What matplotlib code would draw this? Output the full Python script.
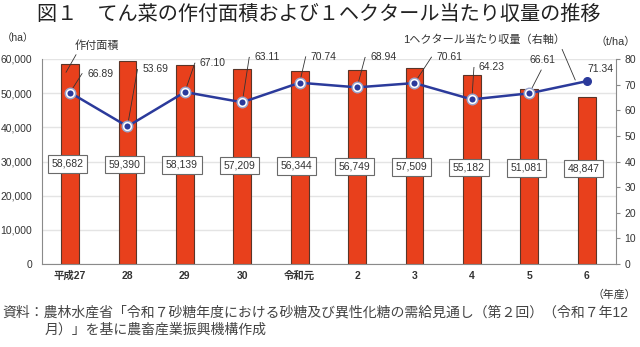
import math
import matplotlib
matplotlib.use("Agg")
import matplotlib.pyplot as plt

plt.rcParams['font.family'] = ['Liberation Sans', 'Noto Sans CJK JP', 'DejaVu Sans']

years = ['平成27', '28', '29', '30', '令和元', '2', '3', '4', '5', '6']
area = [58682, 59390, 58139, 57209, 56344, 56749, 57509, 55182, 51081, 48847]
yield_t = [66.89, 53.69, 67.10, 63.11, 70.74, 68.94, 70.61, 64.23, 66.61, 71.34]

# text offset of each yield label from its point, in pixels (dx to text left, dy up)
lab_off = [(17, 19), (15, 57), (15, 29), (12, 45), (11, 26),
           (13, 30), (22, 26), (7, 32), (0, 33), (1, 12)]
lab_style = ['hook'] * 8 + ['plain', 'none']

bar_color = '#e8401c'
line_color = '#2b3a9b'
txt = '#333333'

fig = plt.figure(figsize=(6.4, 3.47), dpi=100)
W, H = 640, 347
ax = fig.add_axes([42 / W, 1 - 264 / H, (616 - 42) / W, (264 - 59) / H])
ax2 = ax.twinx()

x = list(range(len(years)))
ax.bar(x, area, width=0.31, color=bar_color, edgecolor='#5a3528', linewidth=0.8, zorder=2)
ax.set_xlim(-0.488, 9.51)
ax.set_ylim(0, 60000)
ax.set_yticks(range(0, 60001, 10000))
ax.set_yticklabels([f'{v:,}' for v in range(0, 60001, 10000)])
ax.grid(axis='y', color='#e4e4e4', linewidth=1.0)
ax.set_axisbelow(True)
ax.set_xticks(x)
ax.set_xticklabels(years, fontweight='bold')
ax.tick_params(axis='y', length=0, pad=7, labelsize=7.5, labelcolor=txt)
ax.tick_params(axis='x', length=0, pad=5, labelsize=7.5, labelcolor=txt)
for s in ['top', 'right']:
    ax.spines[s].set_visible(False)
for s in ['left', 'bottom']:
    ax.spines[s].set_color('#8a8a8a')

# area value boxes
for i, v in enumerate(area):
    ax.text(i - 0.05, 29300 - i * 150, f'{v:,}', ha='center', va='center', fontsize=7.5,
            color=txt, zorder=5,
            bbox=dict(boxstyle='square,pad=0.35', fc='white', ec='#6a6a6a', lw=0.8))

# yield line
ax2.set_ylim(0, 80)
ax2.set_yticks(range(0, 81, 10))
ax2.plot(x, yield_t, color=line_color, linewidth=1.8, zorder=3)
ax2.scatter(x[:-1], yield_t[:-1], s=58, color='#9aa6cf', zorder=4)
ax2.scatter(x[:-1], yield_t[:-1], s=30, color=line_color, edgecolors='white', linewidths=1.1, zorder=5)
ax2.scatter(x[-1:], yield_t[-1:], s=30, color=line_color, zorder=5)
ax2.tick_params(axis='y', length=3, direction='out', color='#8a8a8a', pad=3,
                labelsize=7.5, labelcolor=txt)
for s in ['top', 'left', 'bottom']:
    ax2.spines[s].set_visible(False)
ax2.spines['right'].set_color('#8a8a8a')

px = 0.72
for i, v in enumerate(yield_t):
    dx, dy = lab_off[i]
    st = lab_style[i]
    if st == 'hook':
        ang = math.degrees(math.atan2(dy, dx - 5))
        ax2.annotate(f'{v:.2f}', xy=(i, v), xytext=(dx * px, dy * px), textcoords='offset points',
                     ha='left', va='center', fontsize=7.5, color=txt, zorder=3,
                     arrowprops=dict(arrowstyle='-', color='#333333', lw=0.6, relpos=(0, 0.5),
                                     shrinkA=1.5, shrinkB=0,
                                     connectionstyle=f'angle,angleA=0,angleB={ang:.1f},rad=0'))
    elif st == 'plain':
        ax2.annotate(f'{v:.2f}', xy=(i, v), xytext=(dx * px, dy * px), textcoords='offset points',
                     ha='left', va='center', fontsize=7.5, color=txt, zorder=3,
                     arrowprops=dict(arrowstyle='-', color='#333333', lw=0.6, relpos=(0.55, 0),
                                     shrinkA=1.5, shrinkB=0))
    else:
        ax2.annotate(f'{v:.2f}', xy=(i, v), xytext=(dx * px, dy * px), textcoords='offset points',
                     ha='left', va='center', fontsize=7.5, color=txt)

# series labels
ax.annotate('作付面積', xy=(-0.07, 56100), xytext=(31 * px, 27 * px), textcoords='offset points',
            ha='center', va='center', fontsize=8, color=txt,
            arrowprops=dict(arrowstyle='-', color='#333333', lw=0.6, relpos=(0.08, 0),
                            shrinkA=1, shrinkB=0))
ax2.annotate('1ヘクタール当たり収量（右軸）', xy=(8.8, 71.8), xytext=(-91 * px, 40 * px),
             textcoords='offset points', ha='center', va='center', fontsize=8, color=txt,
             arrowprops=dict(arrowstyle='-', color='#333333', lw=0.6, relpos=(0.97, 0),
                             shrinkA=1, shrinkB=0))

fig.text(2 / W, 1 - 38 / H, '（ha）', ha='left', va='center', fontsize=7.5, color=txt)
fig.text(616 / W, 1 - 42 / H, '（t/ha）', ha='center', va='center', fontsize=7.8, color=txt)
fig.text(614 / W, 1 - 295 / H, '（年産）', ha='center', va='center', fontsize=7.8, color=txt)

fig.text(319 / W, 1 - 14 / H, '図１　てん菜の作付面積および１ヘクタール当たり収量の推移',
         ha='center', va='center', fontsize=14.5, color='#222222')
fig.text(2 / W, 1 - 313 / H,
         '資料：農林水産省「令和７砂糖年度における砂糖及び異性化糖の需給見通し（第２回）（令和７年12',
         ha='left', va='center', fontsize=10, color='#444444')
fig.text(45 / W, 1 - 330 / H, '月）」を基に農畜産業振興機構作成',
         ha='left', va='center', fontsize=10, color='#444444')

fig.savefig('out.png', dpi=100, facecolor='white')
